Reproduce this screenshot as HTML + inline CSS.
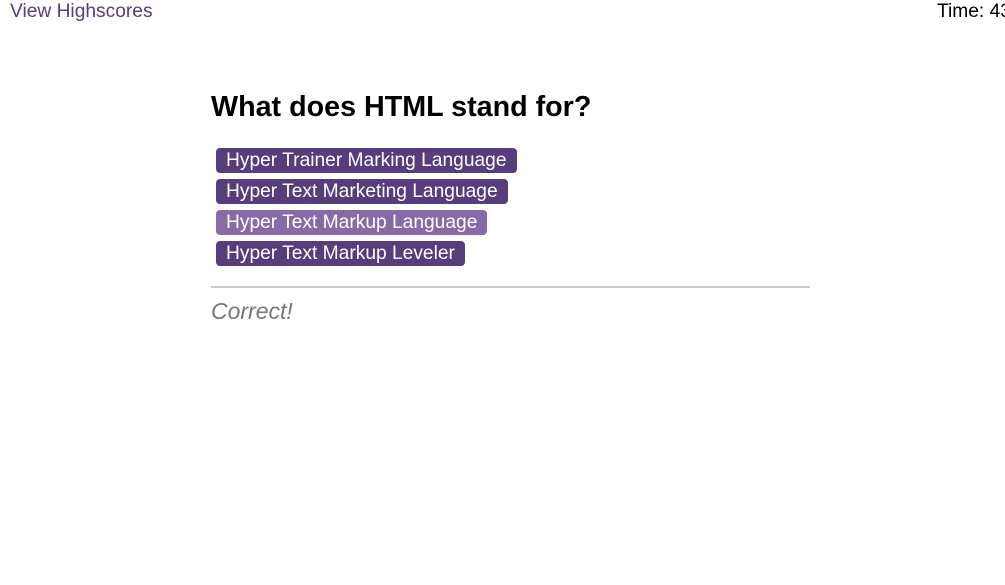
<!DOCTYPE html>
<html><head><meta charset="utf-8"><style>
body{margin:0;width:1005px;height:585px;background:#fff;font-family:"Liberation Sans",Arial,sans-serif;position:relative;overflow:hidden}
.hs{position:absolute;left:10px;top:1px;font-size:19.2px;color:#563d7c}
.tm{position:absolute;left:937px;top:1px;font-size:19.2px;color:#000;white-space:nowrap}
h1{position:absolute;left:211px;top:91px;margin:0;font-size:28.7px;font-weight:bold}
.opts{position:absolute;left:216px;top:148px}
.btn{display:block;background:#563d7c;color:#fff;font-size:19.2px;line-height:26px;height:25px;padding:0 10px;border-radius:4px;margin-bottom:6px;width:max-content;border:none;font-family:inherit;overflow:hidden}
.btn.sel{background:#876ba6}
hr{position:absolute;left:211px;top:286px;width:599px;margin:0;border:none;border-top:2px solid #ccc}
.res{position:absolute;left:211px;top:298px;font-size:23px;font-style:italic;color:#777}
</style></head><body>
<div class="hs">View Highscores</div>
<div class="tm">Time: 43</div>
<h1>What does HTML stand for?</h1>
<div class="opts">
<button class="btn">Hyper Trainer Marking Language</button>
<button class="btn">Hyper Text Marketing Language</button>
<button class="btn sel">Hyper Text Markup Language</button>
<button class="btn">Hyper Text Markup Leveler</button>
</div>
<hr>
<div class="res">Correct!</div>
</body></html>
